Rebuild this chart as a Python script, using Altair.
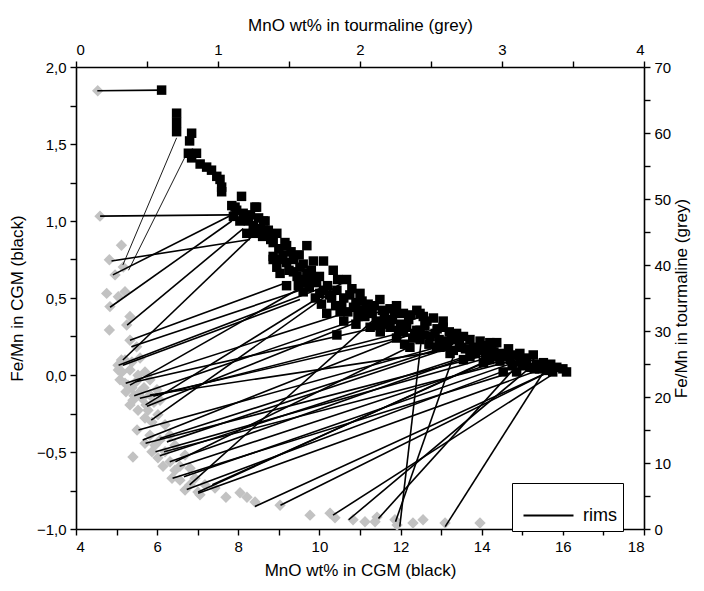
import altair as alt
import pandas as pd

# CGM (black squares): MnO wt% and Fe/Mn
cgm_mno = [6.11, 6.48, 6.48, 6.48, 6.85, 6.80, 6.77, 6.97, 6.85, 7.06, 7.22, 7.34, 7.47, 7.55, 7.59, 7.59,
           8.08, 7.84, 8.45, 7.96, 8.12, 7.88, 8.04, 8.25, 8.37, 8.62, 8.54, 8.74, 8.95, 8.21, 7.92, 8.41,
           8.66, 8.37, 8.70, 8.86, 9.15, 9.19, 9.69, 8.86, 8.95, 9.19, 9.36, 9.52, 9.69, 9.36, 9.03, 9.19,
           9.48, 9.72, 8.86, 9.36, 9.85, 10.10, 10.34, 9.52, 9.93, 10.01, 10.67, 10.43, 11.00, 10.18, 10.51,
           10.84, 10.43, 11.12, 11.49, 11.25, 11.74, 12.07, 12.40, 12.56, 11.74, 12.07, 12.40, 12.23, 12.73,
           13.05, 12.89, 13.22, 13.38, 13.71, 13.55, 13.96, 14.20, 14.37, 14.04, 12.48, 12.81, 13.05, 13.38,
           13.55, 13.96, 14.37, 14.66, 14.94, 15.27, 15.52, 15.85, 16.09, 12.48, 12.97, 13.30, 13.71, 14.20,
           14.53, 14.86, 15.19, 15.60, 12.48, 13.30, 14.12, 14.94, 15.43,
           9.80, 10.00, 10.20, 10.30, 10.60, 10.80, 10.90, 11.00, 11.20, 11.30, 11.40, 11.60, 11.80, 11.90,
           12.00, 12.20, 12.30, 12.60, 12.70, 12.90, 13.10, 13.20, 13.50, 13.80, 14.00, 14.30, 14.50, 14.70,
           14.80, 15.00, 15.10, 15.35, 15.70, 10.60, 10.90, 11.50, 11.90, 12.10, 9.60, 9.90, 10.40, 10.05,
           8.30, 8.50, 8.60, 8.80, 9.00, 9.10, 9.30, 9.50, 9.60,
           9.00, 9.25, 9.45, 9.60, 9.75, 9.90, 10.10, 10.25, 10.45, 10.55, 10.70, 10.75, 10.95, 11.05,
           11.15, 11.35, 11.45, 11.55, 11.65, 11.85, 11.95, 12.15, 12.25, 12.35, 12.55, 12.65, 12.85, 12.95,
           13.15, 13.25, 13.45, 13.60, 13.85, 14.10, 14.25, 14.45, 14.60, 14.75, 15.05, 15.30, 15.50, 15.75,
           16.00]
cgm_fe = [1.85, 1.70, 1.64, 1.58, 1.57, 1.52, 1.44, 1.44, 1.41, 1.37, 1.35, 1.33, 1.29, 1.27, 1.22, 1.19,
          1.16, 1.10, 1.09, 1.07, 1.05, 1.03, 1.00, 1.00, 0.97, 1.00, 0.95, 0.94, 0.92, 0.92, 1.09, 1.09,
          1.00, 0.92, 0.92, 0.86, 0.86, 0.84, 0.84, 0.77, 0.70, 0.73, 0.76, 0.70, 0.66, 0.67, 0.66, 0.58,
          0.58, 0.62, 0.75, 0.75, 0.74, 0.74, 0.68, 0.62, 0.60, 0.53, 0.62, 0.55, 0.53, 0.40, 0.41,
          0.44, 0.26, 0.38, 0.49, 0.31, 0.43, 0.40, 0.42, 0.38, 0.31, 0.28, 0.29, 0.18, 0.25,
          0.31, 0.18, 0.14, 0.25, 0.23, 0.10, 0.16, 0.21, 0.12, 0.08, 0.40, 0.37, 0.35, 0.27,
          0.25, 0.22, 0.21, 0.17, 0.14, 0.13, 0.08, 0.05, 0.02, 0.23, 0.18, 0.16, 0.12, 0.10,
          0.02, 0.02, 0.05, 0.03, 0.29, 0.23, 0.16, 0.09, 0.04,
          0.68, 0.64, 0.58, 0.50, 0.50, 0.56, 0.47, 0.42, 0.46, 0.40, 0.35, 0.38, 0.36, 0.45,
          0.33, 0.36, 0.24, 0.32, 0.20, 0.30, 0.22, 0.28, 0.18, 0.18, 0.19, 0.15, 0.14, 0.10,
          0.13, 0.06, 0.10, 0.07, 0.07, 0.35, 0.33, 0.28, 0.24, 0.20, 0.54, 0.50, 0.45, 0.46,
          1.04, 1.02, 0.90, 0.88, 0.82, 0.78, 0.80, 0.78, 0.72,
          0.75, 0.68, 0.64, 0.60, 0.57, 0.62, 0.55, 0.52, 0.62, 0.45, 0.41, 0.52, 0.38, 0.48,
          0.43, 0.45, 0.32, 0.42, 0.33, 0.40, 0.29, 0.31, 0.39, 0.27, 0.26, 0.35, 0.27, 0.23,
          0.19, 0.24, 0.21, 0.17, 0.14, 0.13, 0.18, 0.09, 0.12, 0.06, 0.11, 0.04, 0.05, 0.02,
          0.04]

# Tourmaline (grey diamonds): MnO wt% and Fe/Mn
tur_mno = [0.153, 0.169, 0.32, 0.235, 0.275, 0.333, 0.216, 0.239, 0.298, 0.345, 0.38, 0.357, 0.235, 0.38,
           0.427, 0.32, 0.298, 0.296, 0.345, 0.394, 0.451, 0.324, 0.380, 0.437, 0.486, 0.310, 0.366, 0.423,
           0.479, 0.521, 0.352, 0.408, 0.465, 0.521, 0.570, 0.380, 0.437, 0.493, 0.549, 0.592, 0.345, 0.394,
           0.451, 0.401, 0.507, 0.486, 0.535, 0.577, 0.430, 0.486, 0.521, 0.556, 0.592, 0.535, 0.577, 0.627,
           0.662, 0.613, 0.697, 0.732, 0.676, 0.732, 0.768, 0.803, 0.859, 0.873, 0.401, 0.979, 1.056, 1.155,
           1.204, 1.261, 1.437, 1.648, 1.789, 1.824, 1.951, 2.035, 2.106, 2.120, 2.246, 2.261, 2.373, 2.444,
           2.599, 2.845, 0.627, 0.662, 0.697, 0.768, 0.803, 0.838, 0.908]
tur_fe = [66.4, 47.4, 43.0, 40.8, 38.5, 39.7, 35.7, 33.7, 35.2, 35.95, 32.2, 30.9, 30.15, 28.6,
          27.6, 25.6, 24.1, 24.8, 25.6, 25.3, 25.9, 23.8, 24.1, 23.3, 23.8, 22.6, 21.8, 22.3,
          21.4, 22.6, 20.8, 20.2, 19.8, 20.3, 21.1, 18.8, 18.0, 18.8, 19.2, 19.5, 22.1, 21.4,
          20.8, 19.5, 18.0, 16.8, 16.2, 17.3, 15.0, 13.0, 14.2, 12.7, 13.5, 11.7, 10.8, 11.7,
          10.2, 9.5, 8.9, 9.5, 7.7, 7.4, 5.9, 6.7, 5.6, 5.2, 10.9, 6.2, 4.8, 5.5,
          4.8, 4.1, 3.6, 2.1, 2.4, 1.7, 1.4, 1.1, 1.1, 1.8, 1.4, 0.6, 0.9, 1.4,
          0.9, 0.9, 15.8, 14.2, 12.7, 11.2, 9.2, 7.7, 6.7]

# Rim tie-lines: tourmaline end (MnO, Fe/Mn) -> CGM end (MnO, Fe/Mn)
rim_tur_mno = [0.15, 0.17, 0.25, 0.26, 0.24, 0.36, 0.38, 0.39, 0.33, 0.33, 0.545, 0.50, 0.53, 0.47, 0.59,
               0.64, 0.56, 0.59, 0.70, 0.76, 0.80, 0.78, 0.86, 0.96, 1.26, 1.44, 1.81, 1.92, 2.13, 2.25,
               2.28, 2.60,
               0.30, 0.35, 0.38, 0.42, 0.41, 0.45, 0.49, 0.52, 0.44, 0.49, 0.62, 0.66, 0.73, 0.68, 0.86]
rim_tur_fe = [66.4, 47.4, 40.6, 38.5, 33.6, 30.9, 28.6, 27.6, 25.6, 24.8, 20.1, 18.6, 16.5, 13.5, 13.7,
              13.2, 11.7, 11.1, 10.2, 7.9, 6.7, 6.0, 5.4, 6.7, 3.4, 3.6, 2.1, 1.4, 1.6, 1.1,
              0.35, 0.35,
              24.8, 22.1, 21.8, 22.3, 20.2, 19.8, 18.8, 20.3, 15.0, 13.0, 11.7, 10.2, 9.5, 7.7, 5.6]
rim_cgm_mno = [6.11, 7.80, 8.29, 7.92, 7.84, 8.12, 9.19, 9.52, 8.49, 9.52, 12.4, 11.0, 10.2, 12.1, 13.3,
               12.9, 14.0, 13.6, 12.2, 14.9, 11.3, 15.3, 15.6, 14.4, 15.9, 15.8, 15.9, 15.2, 14.9, 13.3,
               12.5, 15.6,
               10.2, 11.2, 9.9, 12.6, 11.7, 13.1, 10.7, 14.4, 12.9, 14.7, 15.3, 13.7, 15.0, 15.5, 14.2]
rim_cgm_fe = [1.85, 1.04, 0.88, 1.05, 1.00, 0.95, 0.60, 0.55, 0.94, 0.49, 0.30, 0.35, 0.52, 0.25, 0.20,
              0.15, 0.10, 0.12, 0.18, 0.09, 0.35, 0.10, 0.05, 0.12, 0.05, 0.04, 0.03, 0.05, 0.07, 0.12,
              0.20, 0.05,
              0.58, 0.45, 0.62, 0.38, 0.43, 0.31, 0.62, 0.21, 0.18, 0.17, 0.13, 0.12, 0.14, 0.08, 0.10]

# thin tie-lines
thin_tur_mno = [0.33, 0.37]
thin_tur_fe = [40.0, 39.2]
thin_cgm_mno = [6.48, 6.77]
thin_cgm_fe = [1.54, 1.46]

FONT = "Liberation Sans"

black = pd.DataFrame({"mno": cgm_mno, "fe": cgm_fe})
grey = pd.DataFrame({"mno": tur_mno, "fe": tur_fe})
rims = pd.DataFrame({"tm": rim_tur_mno, "tf": rim_tur_fe, "cm": rim_cgm_mno, "cf": rim_cgm_fe,
                     "kind": ["rims"] * len(rim_tur_mno)})
thin = pd.DataFrame({"tm": thin_tur_mno, "tf": thin_tur_fe, "cm": thin_cgm_mno, "cf": thin_cgm_fe})

xs = alt.Scale(domain=[4, 18], nice=False, zero=False)
ys = alt.Scale(domain=[-1, 2], nice=False, zero=False)
xt = alt.Scale(domain=[0, 4], nice=False, zero=False)
yt = alt.Scale(domain=[0, 70], nice=False, zero=False)

ax_common = dict(domainColor="black", domainWidth=1.6, tickColor="black", tickWidth=1.4, tickSize=6,
                 labelFont=FONT, labelFontSize=15, labelColor="black", titleFont=FONT, titleFontSize=17,
                 titleFontWeight="normal", titleColor="black", grid=False, labelPadding=4)

x_axis = alt.Axis(title="MnO wt% in CGM (black)", values=list(range(4, 19)),
                  labelExpr="datum.value % 2 == 0 ? format(datum.value, 'd') : ''", titlePadding=8, **ax_common)
y_axis = alt.Axis(title="Fe/Mn in CGM (black)", values=[-1 + 0.25 * i for i in range(13)],
                  labelExpr="(datum.value * 2) % 1 == 0 ? replace(format(datum.value, '.1f'), '.', ',') : ''",
                  titlePadding=10, **ax_common)
xt_axis = alt.Axis(orient="top", title="MnO wt% in tourmaline (grey)", values=[0, 0.5, 1, 1.5, 2, 2.5, 3, 3.5, 4],
                   labelExpr="datum.value % 1 == 0 ? format(datum.value, 'd') : ''", titlePadding=8, **ax_common)
yt_axis = alt.Axis(orient="right", title="Fe/Mn in tourmaline (grey)", values=list(range(0, 71, 5)),
                   labelExpr="datum.value % 10 == 0 ? format(datum.value, 'd') : ''", titlePadding=3,
                   titleAngle=270, titleBaseline="top", **ax_common)

grey_layer = alt.Chart(grey).mark_point(shape="diamond", filled=True, color="#c2c2c2", size=130,
                                        opacity=1).encode(
    x=alt.X("mno:Q", scale=xt, axis=xt_axis),
    y=alt.Y("fe:Q", scale=yt, axis=yt_axis),
)

rim_layer = alt.Chart(rims).transform_calculate(
    x0="4 + 3.5 * datum.tm", y0="-1 + 3 * datum.tf / 70"
).mark_rule(strokeWidth=1.6).encode(
    x=alt.X("x0:Q", scale=xs, axis=x_axis),
    y=alt.Y("y0:Q", scale=ys, axis=y_axis),
    x2="cm:Q",
    y2="cf:Q",
    color=alt.Color("kind:N", scale=alt.Scale(range=["black"]),
                    legend=alt.Legend(title=None, orient="none", legendX=436, legendY=416,
                                      symbolType="stroke", symbolSize=2500, symbolStrokeWidth=2.2,
                                      strokeColor="black", fillColor="white", padding=6,
                                      labelFont=FONT, labelFontSize=18, labelColor="black",
                                      labelOffset=8, symbolOffset=4)),
)

thin_layer = alt.Chart(thin).transform_calculate(
    x0="4 + 3.5 * datum.tm", y0="-1 + 3 * datum.tf / 70"
).mark_rule(strokeWidth=0.9, color="black").encode(
    x=alt.X("x0:Q", scale=xs, axis=x_axis),
    y=alt.Y("y0:Q", scale=ys, axis=y_axis),
    x2="cm:Q",
    y2="cf:Q",
)

black_layer = alt.Chart(black).mark_point(shape="square", filled=True, color="black", size=90,
                                          opacity=1).encode(
    x=alt.X("mno:Q", scale=xs, axis=x_axis),
    y=alt.Y("fe:Q", scale=ys, axis=y_axis),
)

inner = alt.layer(thin_layer, rim_layer, black_layer)

chart = alt.layer(grey_layer, inner).resolve_scale(
    x="independent", y="independent"
).properties(
    width=568, height=462,
    autosize=alt.AutoSizeParams(type="none"),
    padding={"left": 68, "top": 59, "right": 52, "bottom": 54},
).configure_view(stroke=None)

chart.save("out.html", embed_options={"renderer": "svg", "actions": False})
